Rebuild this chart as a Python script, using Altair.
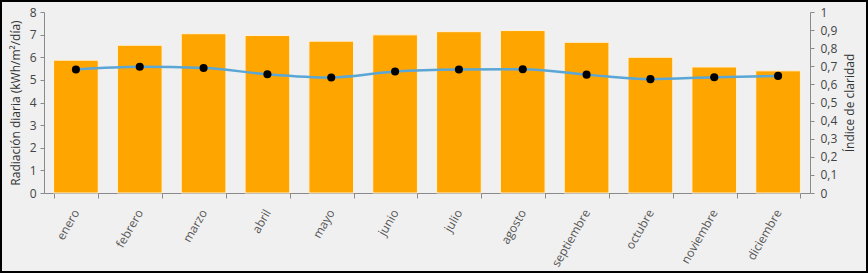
import altair as alt
import pandas as pd

meses = ["enero", "febrero", "marzo", "abril", "mayo", "junio", "julio",
         "agosto", "septiembre", "octubre", "noviembre", "diciembre"]
radiacion = [5.87, 6.53, 7.04, 6.96, 6.71, 6.99, 7.13, 7.18, 6.66, 6.00, 5.57, 5.40]
claridad = [0.682, 0.697, 0.691, 0.656, 0.638, 0.671, 0.682, 0.684, 0.654, 0.629, 0.640, 0.647]
y_ticks = [0, 1, 2, 3, 4, 5, 6, 7, 8]
y2_ticks = [0, 0.1, 0.2, 0.3, 0.4, 0.5, 0.6, 0.7, 0.8, 0.9, 1]

df = pd.DataFrame({"mes": meses, "rad": radiacion, "kt": claridad})

FONT = "Open Sans"
W, H = 766, 181
PL, PT, PR, PB = 44, 12, 58, 80

x_enc = alt.X("mes:N", sort=meses, title=None,
              scale=alt.Scale(paddingInner=0.3, paddingOuter=0.15),
              axis=alt.Axis(labelAngle=-60, labelAlign="right", labelBaseline="middle",
                            tickBand="extent", tickSize=5, labelPadding=12,
                            labelFontSize=12, labelColor="#555", domainColor="#8a8a8a",
                            tickColor="#8a8a8a", labelFont=FONT, labelOverlap=False))

bars = alt.Chart(df).mark_bar(color="#FFA500", stroke="#fff3dc", strokeWidth=1).encode(
    x=x_enc,
    y=alt.Y("rad:Q", title="Radiación diaria (kWh/m²/día)",
            scale=alt.Scale(domain=[0, 8], nice=False),
            axis=alt.Axis(values=y_ticks, tickSize=4, labelPadding=4, grid=False,
                          titlePadding=7, titleFontSize=12, titleFontWeight="normal",
                          titleColor="#333", labelColor="#444", labelFontSize=12,
                          domainColor="#8a8a8a", tickColor="#8a8a8a", labelOverlap=False,
                          labelFont=FONT, titleFont=FONT)),
)

y2 = alt.Y("kt:Q", title="Índice de claridad",
           scale=alt.Scale(domain=[0, 1], nice=False),
           axis=alt.Axis(orient="right", values=y2_ticks, tickSize=4, labelPadding=6,
                         grid=False, titleAngle=-90, titlePadding=20, labelOverlap=False,
                         labelExpr="replace(format(datum.value, '.1~f'), '.', ',')",
                         titleFontSize=12, titleFontWeight="normal", titleColor="#333",
                         labelColor="#444", labelFontSize=12,
                         domainColor="#8a8a8a", tickColor="#8a8a8a",
                         labelFont=FONT, titleFont=FONT))

line = alt.Chart(df).mark_line(color="#5aa6d6", strokeWidth=2.5, interpolate="monotone").encode(
    x=alt.X("mes:N", sort=meses), y=y2)
points = alt.Chart(df).mark_circle(color="black", size=65, opacity=1).encode(
    x=alt.X("mes:N", sort=meses), y=y2)

frame = alt.Chart(df).mark_rect(fill=None, stroke="black", strokeWidth=2).encode(
    x=alt.value(-PL + 1), x2=alt.value(W + PR - 1),
    y=alt.value(-PT + 1), y2=alt.value(H + PB - 1))

right = alt.layer(line, points)

chart = alt.layer(bars, right, frame).resolve_scale(y="independent").properties(
    width=W, height=H,
    padding={"left": PL, "top": PT, "right": PR, "bottom": PB},
    autosize=alt.AutoSizeParams(type="none"),
    background="#f0f0f0",
).configure_view(stroke=None)

chart.save("out.html", embed_options={"renderer": "svg", "actions": False})
